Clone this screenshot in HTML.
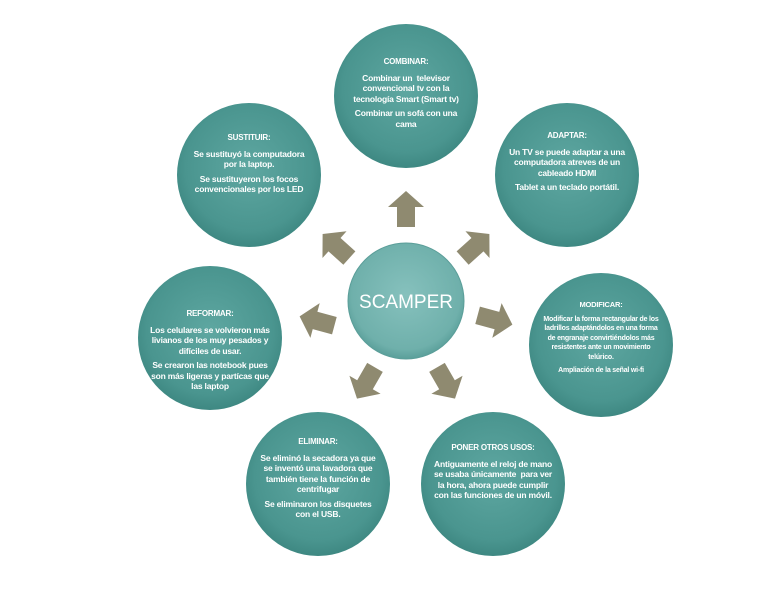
<!DOCTYPE html>
<html><head><meta charset="utf-8"><style>
body{margin:0;width:768px;height:594px;background:#fff;position:relative;overflow:hidden;font-family:"Liberation Sans",sans-serif}
svg{position:absolute;left:0;top:0}
.t{position:absolute;width:120px;color:#fff;text-align:center;font-size:8.5px;line-height:10.5px;font-weight:bold;letter-spacing:-0.2px}
.t p{margin:0 0 4px 0}
.t .h{font-size:8px;margin-bottom:5px}
</style></head><body>
<svg width="768" height="594">
<defs>
<radialGradient id="g" cx="50%" cy="45%" r="55%"><stop offset="0" stop-color="#5ea7a1"/><stop offset="0.8" stop-color="#4a958f"/><stop offset="1" stop-color="#3e8882"/></radialGradient>
<radialGradient id="gc" cx="50%" cy="45%" r="55%"><stop offset="0" stop-color="#86c1bd"/><stop offset="0.85" stop-color="#6fb0ab"/><stop offset="1" stop-color="#5a9f9a"/></radialGradient>
<path id="a" d="M-18,-9 L2,-9 L2,-18 L18,0 L2,18 L2,9 L-18,9 Z" fill="#8f8a70"/>
</defs>
<circle cx="406" cy="96" r="72" fill="url(#g)"/>
<circle cx="249" cy="175" r="72" fill="url(#g)"/>
<circle cx="567" cy="175" r="72" fill="url(#g)"/>
<circle cx="210" cy="338" r="72" fill="url(#g)"/>
<circle cx="601" cy="345" r="72" fill="url(#g)"/>
<circle cx="318" cy="484" r="72" fill="url(#g)"/>
<circle cx="493" cy="484" r="72" fill="url(#g)"/>
<circle cx="406" cy="301" r="58" fill="url(#gc)" stroke="#5b9e99" stroke-width="1"/>
<text x="406" y="308" fill="#fff" font-size="19" text-anchor="middle" font-family="Liberation Sans">SCAMPER</text>
<use href="#a" transform="translate(406,209) rotate(-90)"/>
<use href="#a" transform="translate(476,246) rotate(-42)"/>
<use href="#a" transform="translate(495,320) rotate(15)"/>
<use href="#a" transform="translate(446,383) rotate(60)"/>
<use href="#a" transform="translate(366,383) rotate(120)"/>
<use href="#a" transform="translate(317,321) rotate(195)"/>
<use href="#a" transform="translate(336,246) rotate(-138)"/>
</svg>
<div class="t" style="left:346px;top:57px"><p class="h">COMBINAR:</p><p>Combinar un &nbsp;televisor convencional tv con la tecnología Smart (Smart tv)</p><p>Combinar un sofá con una cama</p></div>
<div class="t" style="left:189px;top:133px"><p class="h">SUSTITUIR:</p><p>Se sustituyó la computadora por la laptop.</p><p>Se sustituyeron los focos convencionales por los LED</p></div>
<div class="t" style="left:507px;top:131px"><p class="h">ADAPTAR:</p><p>Un TV se puede adaptar a una computadora atreves de un cableado HDMI</p><p>Tablet a un teclado portátil.</p></div>
<div class="t" style="left:150px;top:309px"><p class="h">REFORMAR:</p><p>Los celulares se volvieron más livianos de los muy pesados y difíciles de usar.</p><p>Se crearon las notebook pues son más ligeras y partícas que las laptop</p></div>
<div class="t" style="left:541px;top:300px;font-size:7px;line-height:9.5px"><p class="h" style="font-size:7.5px">MODIFICAR:</p><p>Modificar la forma rectangular de los ladrillos adaptándolos en una forma de engranaje convirtiéndolos más resistentes ante un movimiento telúrico.</p><p>Ampliación de la señal wi-fi</p></div>
<div class="t" style="left:258px;top:437px"><p class="h">ELIMINAR:</p><p>Se eliminó la secadora ya que se inventó una lavadora que también tiene la función de centrifugar</p><p>Se eliminaron los disquetes con el USB.</p></div>
<div class="t" style="left:433px;top:443px"><p class="h">PONER OTROS USOS:</p><p>Antiguamente el reloj de mano se usaba únicamente &nbsp;para ver la hora, ahora puede cumplir con las funciones de un móvil.</p></div>
</body></html>
